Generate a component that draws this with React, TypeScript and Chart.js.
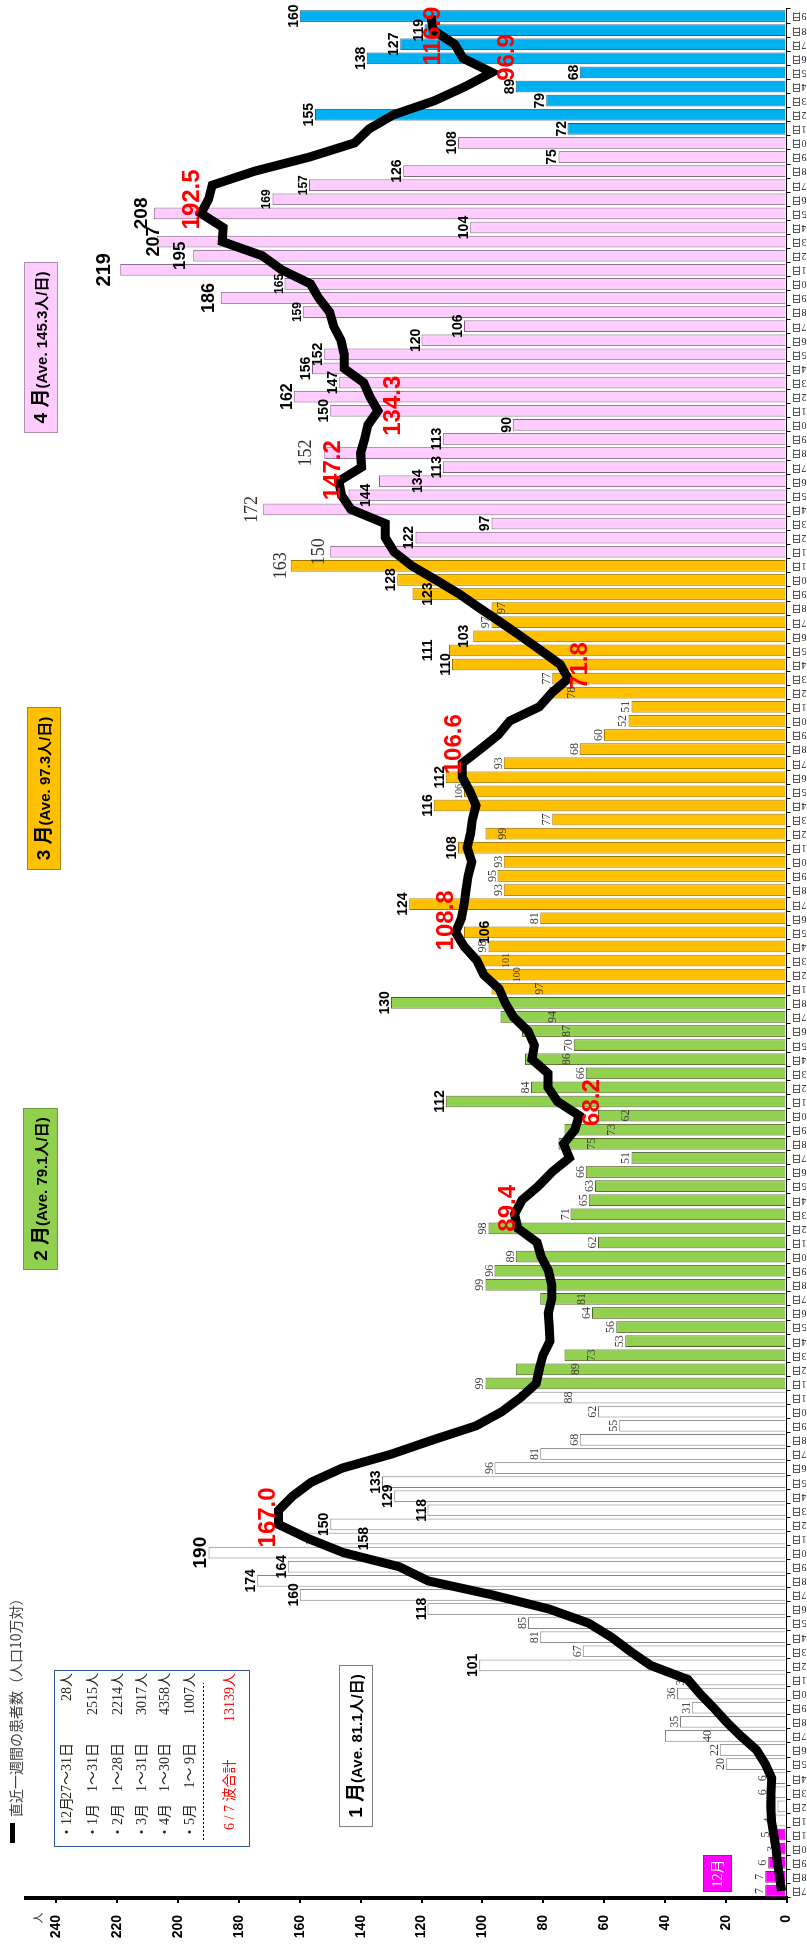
import React, { useEffect, useRef } from 'react';
import { Chart, registerables } from 'chart.js';
Chart.register(...registerables);

const W = 1951;
const H = 807;
const SANS = '"Liberation Sans", Arial, "Noto Sans CJK JP", sans-serif';
const SERIF = '"Liberation Serif", "Times New Roman", "Noto Sans CJK JP", serif';
const JP = '"Noto Sans CJK JP", sans-serif';

// ---- daily new patients ----
const DEC = [7, 7, 6, 3, 5]; // Dec 27-31
const JAN = [4, 3, 6, 6, 20, 22, 40, 35, 31, 36, 33, 101, 67, 81, 85, 118, 160, 174, 164, 190, 158, 150, 118, 129, 133, 96, 81, 68, 55, 62, 88];
const FEB = [99, 89, 73, 53, 56, 64, 81, 99, 96, 89, 62, 98, 71, 65, 63, 66, 51, 75, 73, 62, 112, 84, 66, 86, 70, 87, 94, 130];
const MAR = [97, 100, 101, 98, 106, 81, 124, 93, 95, 93, 108, 99, 77, 116, 106, 112, 93, 68, 60, 52, 51, 78, 77, 110, 111, 103, 97, 97, 123, 128, 163];
const APR = [150, 122, 97, 172, 144, 134, 113, 152, 113, 90, 150, 162, 147, 156, 152, 120, 106, 159, 186, 165, 219, 195, 207, 104, 208, 169, 157, 126, 75, 108];
const MAY = [72, 155, 79, 89, 68, 138, 127, 119, 160];

// ---- 7-day patients per 100k (line) ----
const WEEK_DEC = [1.7, 2.3, 3.0, 3.5, 4.2];
const WEEK_JAN = [5.0, 5.2, 5.1, 4.9, 7.0, 9.9, 15.1, 19.8, 24.0, 28.5, 32.5, 44.7, 51.4, 57.6, 65.1, 78.1, 96.7, 117.9, 127.3, 145.7, 157.3, 167.0, 167.0, 162.4, 156.2, 146.0, 129.7, 116.2, 102.0, 93.6, 87.4];
const WEEK_FEB = [82.3, 81.3, 80.1, 77.8, 78.0, 78.3, 77.2, 77.2, 78.3, 80.7, 82.0, 88.3, 89.4, 87.0, 81.6, 77.1, 71.4, 73.3, 69.6, 68.2, 75.3, 78.4, 78.4, 83.7, 82.9, 85.0, 89.8, 92.5];
const WEEK_MAR = [94.5, 99.6, 101.8, 106.0, 108.8, 106.9, 106.0, 105.4, 104.7, 103.5, 105.0, 103.9, 103.3, 102.1, 104.1, 106.6, 106.6, 100.6, 94.8, 91.0, 81.3, 77.1, 71.8, 74.4, 80.8, 87.3, 94.0, 100.9, 107.6, 115.3, 123.2];
const WEEK_APR = [129.1, 131.9, 131.9, 143.2, 146.3, 147.2, 139.7, 140.0, 138.7, 137.6, 134.3, 137.0, 139.0, 145.4, 145.4, 146.5, 148.9, 150.2, 153.8, 156.5, 166.0, 172.4, 185.5, 185.2, 192.5, 190.0, 188.8, 174.8, 156.8, 142.0];
const WEEK_MAY = [137.2, 129.2, 115.7, 105.6, 96.9, 106.3, 109.1, 116.2, 116.9];

const MONTH_NUM = [12, 1, 2, 3, 4, 5];
const MONTH_START = [27, 1, 1, 1, 1, 1];
const DAILY_PARTS = [DEC, JAN, FEB, MAR, APR, MAY];
const WEEK_PARTS = [WEEK_DEC, WEEK_JAN, WEEK_FEB, WEEK_MAR, WEEK_APR, WEEK_MAY];
const FILLS = ['#FF00FF', '#FFFFFF', '#92D050', '#FFC000', '#FFCCFF', '#00B0F0'];
const BORDERS = ['#8B008B', '#7F7F7F', '#4F6228', '#9C7500', '#806080', '#1F5F8B'];

// legend table
const LEG_MONTH = ['12月', '1月', '2月', '3月', '4月', '5月'];
const LEG_RANGE = ['27～31日', '1～31日', '1～28日', '1～31日', '1～30日', '1～ 9日'];
const LEG_TOTAL = [28, 2515, 2214, 3017, 4358, 1007];
const GRAND_TOTAL = 13139;
const MONTH_AVE = ['81.1', '79.1', '97.3', '145.3'];

// build flat arrays
const labels: string[] = [];
const keys: string[] = [];
const daily: number[] = [];
const weekly: number[] = [];
const fills: string[] = [];
const borders: string[] = [];
DAILY_PARTS.forEach((arr, mi) => {
  arr.forEach((v, d) => {
    const day = MONTH_START[mi] + d;
    labels.push(day + '日');
    keys.push(MONTH_NUM[mi] + '-' + day);
    daily.push(v);
    weekly.push(WEEK_PARTS[mi][d]);
    fills.push(FILLS[mi]);
    borders.push(BORDERS[mi]);
  });
});

// detect narrow font
function hasFont(name: string) {
  try {
    const c = document.createElement('canvas').getContext('2d') as CanvasRenderingContext2D;
    c.font = `bold 40px monospace`;
    const a = c.measureText('0123456789').width;
    c.font = `bold 40px "${name}", monospace`;
    const b = c.measureText('0123456789').width;
    return Math.abs(a - b) > 1;
  } catch (e) {
    return false;
  }
}
const NARROW = hasFont('Liberation Sans Narrow');
const BOLD_FAMILY = NARROW ? '"Liberation Sans Narrow", "Liberation Sans", Arial, sans-serif' : SANS;
const BOLD_SIZE = NARROW ? 17 : 14;

// ---- label styling tables ----
function rng(m: number, a: number, b: number) {
  const r: string[] = [];
  for (let d = a; d <= b; d++) r.push(m + '-' + d);
  return r;
}
const SERIF_SMALL = new Set<string>([
  ...rng(12, 27, 31), ...rng(1, 1, 11), ...rng(1, 13, 15), ...rng(1, 26, 31),
  ...rng(2, 1, 20), ...rng(2, 22, 27),
  ...rng(3, 1, 4), '3-6', '3-8', '3-9', '3-10', '3-12', '3-13', '3-15', ...rng(3, 17, 23), '3-27', '3-28',
]);
const SERIF_BIG = new Set<string>(['3-31', '4-1', '4-4', '4-8']);
const BOLD_BIG: Record<string, number> = { '1-20': 19, '4-19': 18, '4-21': 20, '4-22': 17, '4-23': 18, '4-25': 19, '4-12': 16 };
const BOLD_SMALL = new Set<string>(['4-18', '4-20', '4-26', '4-27']);
const INSIDE: Record<string, number> = {
  '3-28': 5, '3-22': 17, '3-12': 12, '3-5': 15, '3-3': 22, '3-2': 30, '3-1': 43, '2-27': 47, '2-26': 39,
  '2-24': 36, '2-20': 22, '2-19': 42, '2-18': 28, '2-7': 36, '2-3': 22, '2-2': 55, '1-31': 44, '1-21': 52,
  '1-7': 37, '3-29': 10, '4-5': 11, '4-6': 33,
};
const GAP: Record<string, number> = {
  '4-21': 10, '4-25': 7, '4-22': 8, '4-19': 7, '4-23': -2, '3-31': 5, '4-4': 6, '4-1': 6, '4-8': 13, '1-20': 3,
  '3-25': 17, '3-26': 5,
};
const RED_PLACE: Record<string, [string, number, number]> = {
  '1-22': ['above', 4, 7],
  '2-13': ['above', 0, 6],
  '2-20': ['below', 3, 13],
  '3-5': ['above', 3, 12],
  '3-16': ['above', 1, 33],
  '3-23': ['below', 2, 13],
  '4-6': ['above', -1, 11],
  '4-11': ['below', 5, 5],
  '4-25': ['above', 2, 14],
  '5-5': ['below', 5, 15],
  '5-9': ['middle', 0, -20],
};

function labelStyle(key: string, v: number) {
  if (SERIF_BIG.has(key)) return { font: `18px ${SERIF}`, size: 18, color: '#333' };
  if (SERIF_SMALL.has(key)) {
    const s = v >= 100 ? 10 : 12;
    return { font: `${s}px ${SERIF}`, size: s, color: '#404040' };
  }
  if (BOLD_BIG[key]) return { font: `bold ${BOLD_BIG[key]}px ${SANS}`, size: BOLD_BIG[key], color: '#000' };
  if (BOLD_SMALL.has(key)) return { font: `bold ${NARROW ? 14 : 12}px ${BOLD_FAMILY}`, size: NARROW ? 14 : 12, color: '#000' };
  return { font: `bold ${BOLD_SIZE}px ${BOLD_FAMILY}`, size: BOLD_SIZE, color: '#000' };
}

function monthBox(ctx: CanvasRenderingContext2D, x0: number, x1: number, y0: number, y1: number, fill: string, stroke: string, big: string, small: string) {
  ctx.save();
  ctx.fillStyle = fill;
  ctx.fillRect(x0, y0, x1 - x0, y1 - y0);
  ctx.strokeStyle = stroke;
  ctx.lineWidth = 1;
  ctx.strokeRect(x0 + 0.5, y0 + 0.5, x1 - x0 - 1, y1 - y0 - 1);
  ctx.font = `bold 19px ${SANS}`;
  const w1 = ctx.measureText(big).width;
  ctx.font = `bold 15px ${SANS}`;
  const w2 = ctx.measureText(small).width;
  let x = (x0 + x1) / 2 - (w1 + w2) / 2;
  const yb = (y0 + y1) / 2 + 6;
  ctx.fillStyle = '#000';
  ctx.textAlign = 'left';
  ctx.textBaseline = 'alphabetic';
  ctx.font = `bold 19px ${SANS}`;
  ctx.fillText(big, x, yb);
  x += w1;
  ctx.font = `bold 15px ${SANS}`;
  ctx.fillText(small, x, yb);
  ctx.restore();
}

const annotPlugin = {
  id: 'annot',
  afterDatasetDraw(chart: any, args: any) {
    if (args.index !== 1) return;
    const ctx: CanvasRenderingContext2D = chart.ctx;
    ctx.save();
    ctx.textAlign = 'center';
    ctx.textBaseline = 'alphabetic';
    args.meta.data.forEach((el: any, i: number) => {
      const key = keys[i];
      const v = daily[i];
      const st = labelStyle(key, v);
      ctx.font = st.font;
      ctx.fillStyle = st.color;
      const cap = st.size * 0.72;
      let y;
      if (INSIDE[key] !== undefined) y = el.y + INSIDE[key] + cap;
      else y = el.y - (GAP[key] !== undefined ? GAP[key] : 2);
      ctx.fillText(String(v), el.x, y);
    });
    ctx.restore();
  },
  afterDatasetsDraw(chart: any) {
    const ctx: CanvasRenderingContext2D = chart.ctx;
    const lineMeta = chart.getDatasetMeta(0);
    ctx.save();
    // red labels on the weekly line
    const RS = 24;
    ctx.font = `bold ${RS}px ${SANS}`;
    ctx.fillStyle = '#FF0000';
    ctx.textAlign = 'center';
    Object.keys(RED_PLACE).forEach((key) => {
      const i = keys.indexOf(key);
      if (i < 0) return;
      const el = lineMeta.data[i];
      const [pos, gap, dx] = RED_PLACE[key];
      const cap = RS * 0.72;
      let y = el.y - gap;
      if (pos === 'below') y = el.y + gap + cap;
      if (pos === 'middle') y = el.y + cap / 2;
      ctx.textBaseline = 'alphabetic';
      ctx.fillText(weekly[i].toFixed(1), el.x + dx, y);
    });

    // month boxes
    monthBox(ctx, 124, 286, 339, 373, '#FFFFFF', '#808080', '1 月', `(Ave. ${MONTH_AVE[0]}人/日)`);
    monthBox(ctx, 681, 843, 23, 58, '#92D050', '#6E9A3A', '2 月', `(Ave. ${MONTH_AVE[1]}人/日)`);
    monthBox(ctx, 1081, 1244, 27, 61, '#FFC000', '#B08600', '3 月', `(Ave. ${MONTH_AVE[2]}人/日)`);
    monthBox(ctx, 1518, 1689, 24, 58, '#FFCCFF', '#B090B0', '4 月', `(Ave. ${MONTH_AVE[3]}人/日)`);

    // 12月 tag
    ctx.fillStyle = '#FF00FF';
    ctx.fillRect(59, 703, 37, 29);
    ctx.strokeStyle = '#C000C0';
    ctx.lineWidth = 1;
    ctx.strokeRect(59.5, 703.5, 36, 28);
    ctx.fillStyle = '#FFFFFF';
    ctx.font = `14px ${SERIF}`;
    ctx.textAlign = 'center';
    ctx.textBaseline = 'middle';
    ctx.fillText('12月', 77.5, 718);

    // legend line + title
    ctx.strokeStyle = '#000';
    ctx.lineWidth = 5;
    ctx.beginPath();
    ctx.moveTo(108, 12.5);
    ctx.lineTo(128, 12.5);
    ctx.stroke();
    ctx.fillStyle = '#404040';
    ctx.font = `14px ${JP}`;
    ctx.textAlign = 'left';
    ctx.textBaseline = 'middle';
    ctx.fillText('直近一週間の患者数（人口10万対）', 134, 16);

    // "人" unit
    ctx.fillStyle = '#333';
    ctx.font = `11px ${JP}`;
    ctx.textAlign = 'center';
    ctx.fillText('人', 33, 38);

    // totals box
    ctx.fillStyle = '#FFFFFF';
    ctx.fillRect(104, 54, 177, 196);
    ctx.strokeStyle = '#2F5597';
    ctx.lineWidth = 1;
    ctx.strokeRect(104.5, 54.5, 176, 195);
    const rows = [67, 93, 118, 142, 165, 190];
    ctx.font = `14px ${SERIF}`;
    ctx.fillStyle = '#222';
    ctx.textBaseline = 'middle';
    rows.forEach((ry, r) => {
      ctx.textAlign = 'left';
      ctx.fillText('・' + LEG_MONTH[r], 112, ry);
      ctx.textAlign = 'right';
      ctx.fillText(LEG_RANGE[r], 208, ry);
      ctx.fillText(LEG_TOTAL[r] + '人', 278, ry);
    });
    ctx.setLineDash([2, 2]);
    ctx.strokeStyle = '#000';
    ctx.lineWidth = 1;
    ctx.beginPath();
    ctx.moveTo(111, 203.5);
    ctx.lineTo(268, 203.5);
    ctx.stroke();
    ctx.setLineDash([]);
    ctx.fillStyle = '#FF0000';
    ctx.textAlign = 'left';
    ctx.fillText('6 / 7 波合計', 121, 230);
    ctx.textAlign = 'right';
    ctx.fillText(GRAND_TOTAL + '人', 278, 230);
    ctx.restore();
  },
};

export default function App() {
  const ref = useRef<HTMLCanvasElement>(null);
  useEffect(() => {
    const canvas = ref.current as HTMLCanvasElement;
    const chart = new Chart(canvas, {
      type: 'bar',
      data: {
        labels,
        datasets: [
          {
            type: 'line',
            data: weekly,
            borderColor: '#000000',
            borderWidth: 9,
            pointRadius: 0,
            tension: 0,
            fill: false,
            order: 0,
          } as any,
          {
            type: 'bar',
            data: daily,
            backgroundColor: fills,
            borderColor: borders,
            borderWidth: 1,
            barPercentage: 0.83,
            categoryPercentage: 1,
            order: 1,
          } as any,
        ],
      },
      options: {
        animation: false,
        responsive: false,
        devicePixelRatio: 1,
        layout: { padding: { left: 0, right: 9, top: 26, bottom: 0 } },
        plugins: { legend: { display: false }, tooltip: { enabled: false } },
        scales: {
          x: {
            grid: { offset: true, drawOnChartArea: false, drawTicks: true, tickLength: 4, color: '#000' },
            border: { display: true, color: '#000', width: 1 },
            ticks: {
              autoSkip: false,
              minRotation: 90,
              maxRotation: 90,
              padding: 1,
              color: '#222',
              font: { size: 10, family: SERIF },
            },
            afterFit: (s: any) => {
              s.height = 20;
            },
          },
          y: {
            min: 0,
            max: 250,
            ticks: {
              stepSize: 20,
              padding: 12,
              color: '#000',
              font: { size: BOLD_SIZE, weight: 'bold', family: BOLD_FAMILY },
            },
            afterBuildTicks: (s: any) => {
              s.ticks = s.ticks.filter((t: any) => t.value <= 240);
            },
            grid: { drawOnChartArea: false, drawTicks: true, tickLength: 5, lineWidth: 2, color: '#000' },
            border: { display: true, color: '#000', width: 4 },
            afterFit: (s: any) => {
              s.width = 53;
            },
          },
        },
      } as any,
      plugins: [annotPlugin],
    });
    return () => chart.destroy();
  }, []);

  return (
    <div style={{ position: 'absolute', left: 0, top: 0, width: 807, height: 1951, overflow: 'hidden', background: '#fff' }}>
      <div
        style={{
          position: 'absolute',
          left: 0,
          top: 0,
          width: W,
          height: H,
          transformOrigin: '0 0',
          transform: `translateY(${W}px) rotate(-90deg)`,
        }}
      >
        <canvas ref={ref} width={W} height={H} style={{ display: 'block', width: W, height: H }} />
      </div>
    </div>
  );
}
